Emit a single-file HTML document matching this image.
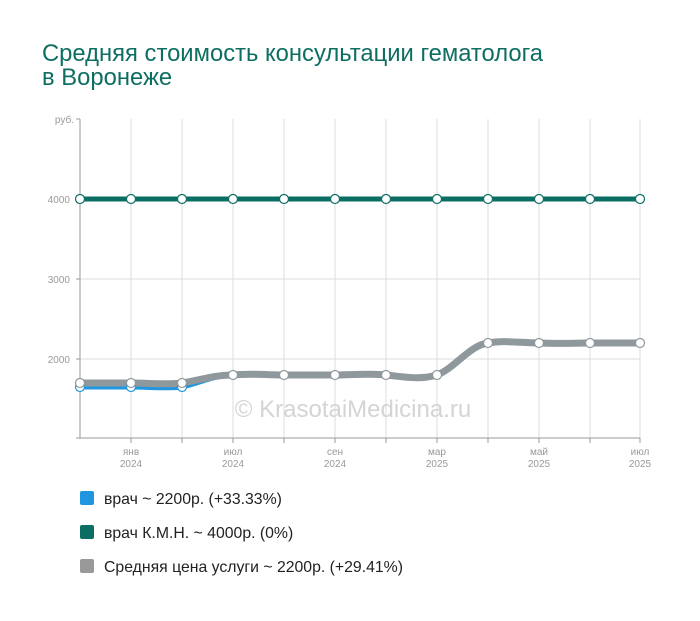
<!DOCTYPE html>
<html><head><meta charset="utf-8"><style>
body{margin:0;background:#fff;width:700px;height:616px;overflow:hidden;font-family:"Liberation Sans","Noto Sans CJK SC",sans-serif}
</style></head><body>
<svg width="700" height="616" xmlns="http://www.w3.org/2000/svg" font-family="Liberation Sans, sans-serif">
<text x="42" y="61" font-size="23.8" fill="#0e6e62">Средняя стоимость консультации гематолога</text>
<text x="42" y="85" font-size="23.8" fill="#0e6e62">в Воронеже</text>
<g stroke="#dcdcdc" stroke-width="1">
<line x1="131" y1="119" x2="131" y2="438"/><line x1="182" y1="119" x2="182" y2="438"/><line x1="233" y1="119" x2="233" y2="438"/><line x1="284" y1="119" x2="284" y2="438"/><line x1="335" y1="119" x2="335" y2="438"/><line x1="386" y1="119" x2="386" y2="438"/><line x1="437" y1="119" x2="437" y2="438"/><line x1="488" y1="119" x2="488" y2="438"/><line x1="539" y1="119" x2="539" y2="438"/><line x1="590" y1="119" x2="590" y2="438"/><line x1="640" y1="119" x2="640" y2="438"/>
<line x1="80" y1="199" x2="640" y2="199"/><line x1="80" y1="279" x2="640" y2="279"/><line x1="80" y1="359" x2="640" y2="359"/>
</g>
<g stroke="#999" stroke-width="1">
<line x1="80" y1="119" x2="80" y2="438"/><line x1="80" y1="438" x2="640" y2="438"/>
<line x1="76" y1="119" x2="80" y2="119"/><line x1="76" y1="199" x2="80" y2="199"/><line x1="76" y1="279" x2="80" y2="279"/><line x1="76" y1="359" x2="80" y2="359"/><line x1="76" y1="438" x2="80" y2="438"/>
<line x1="131" y1="438" x2="131" y2="443"/><line x1="182" y1="438" x2="182" y2="443"/><line x1="233" y1="438" x2="233" y2="443"/><line x1="284" y1="438" x2="284" y2="443"/><line x1="335" y1="438" x2="335" y2="443"/><line x1="386" y1="438" x2="386" y2="443"/><line x1="437" y1="438" x2="437" y2="443"/><line x1="488" y1="438" x2="488" y2="443"/><line x1="539" y1="438" x2="539" y2="443"/><line x1="590" y1="438" x2="590" y2="443"/><line x1="640" y1="438" x2="640" y2="443"/>
</g>
<g font-size="10" fill="#999" text-anchor="end">
<text x="74" y="123">руб.</text><text x="70" y="203">4000</text><text x="70" y="283">3000</text><text x="70" y="363">2000</text>
</g>
<g font-size="10" fill="#999" text-anchor="middle">
<text x="131" y="455">янв</text><text x="131" y="467">2024</text>
<text x="233" y="455">июл</text><text x="233" y="467">2024</text>
<text x="335" y="455">сен</text><text x="335" y="467">2024</text>
<text x="437" y="455">мар</text><text x="437" y="467">2025</text>
<text x="539" y="455">май</text><text x="539" y="467">2025</text>
<text x="640" y="455">июл</text><text x="640" y="467">2025</text>
</g>
<text x="353" y="417" font-size="24" fill="#d4d4d4" text-anchor="middle">© KrasotaiMedicina.ru</text>
<path d="M80,387 L131,387 C150,387 165,389 182,387 C200,383 215,375 233,375 C250,374 265,375 284,375 L335,375 C350,375 370,374 386,375 C405,376 420,380 437,375 C455,368 470,345 488,343 C505,340 520,343 539,343 L640,343" fill="none" stroke="#2196e0" stroke-width="5"/>
<path d="M80,383 L131,383 C150,383 165,385 182,383 C200,380 215,375 233,375 C250,373 265,375 284,375 L335,375 C350,375 370,373 386,375 C405,377 420,380 437,375 C455,368 470,345 488,343 C505,340 520,343 539,343 C560,344 575,343 590,343 L640,343" fill="none" stroke="#8f989c" stroke-width="7"/>
<line x1="80" y1="199" x2="640" y2="199" stroke="#0b6e64" stroke-width="5"/>
<g fill="#fff" stroke="#0b6e64" stroke-width="1.2">
<circle cx="80" cy="199" r="4.5"/><circle cx="131" cy="199" r="4.5"/><circle cx="182" cy="199" r="4.5"/><circle cx="233" cy="199" r="4.5"/><circle cx="284" cy="199" r="4.5"/><circle cx="335" cy="199" r="4.5"/><circle cx="386" cy="199" r="4.5"/><circle cx="437" cy="199" r="4.5"/><circle cx="488" cy="199" r="4.5"/><circle cx="539" cy="199" r="4.5"/><circle cx="590" cy="199" r="4.5"/><circle cx="640" cy="199" r="4.5"/>
</g>
<g fill="#fff" stroke="#2196e0" stroke-width="1.2">
<circle cx="80" cy="387" r="4.5"/><circle cx="131" cy="387" r="4.5"/><circle cx="182" cy="387" r="4.5"/>
</g>
<g fill="#fff" stroke="#8f989c" stroke-width="1.2">
<circle cx="80" cy="383" r="4.5"/><circle cx="131" cy="383" r="4.5"/><circle cx="182" cy="383" r="4.5"/><circle cx="233" cy="375" r="4.5"/><circle cx="284" cy="375" r="4.5"/><circle cx="335" cy="375" r="4.5"/><circle cx="386" cy="375" r="4.5"/><circle cx="437" cy="375" r="4.5"/><circle cx="488" cy="343" r="4.5"/><circle cx="539" cy="343" r="4.5"/><circle cx="590" cy="343" r="4.5"/><circle cx="640" cy="343" r="4.5"/>
</g>
<rect x="80" y="491" width="14" height="14" rx="2" fill="#2196e0"/>
<text x="104" y="504" font-size="15.8" fill="#222">врач ~ 2200р. (+33.33%)</text>
<rect x="80" y="525" width="14" height="14" rx="2" fill="#0b6e64"/>
<text x="104" y="538" font-size="15.8" fill="#222">врач К.М.Н. ~ 4000р. (0%)</text>
<rect x="80" y="559" width="14" height="14" rx="2" fill="#999"/>
<text x="104" y="572" font-size="15.8" fill="#222">Средняя цена услуги ~ 2200р. (+29.41%)</text>
</svg>
</body></html>
